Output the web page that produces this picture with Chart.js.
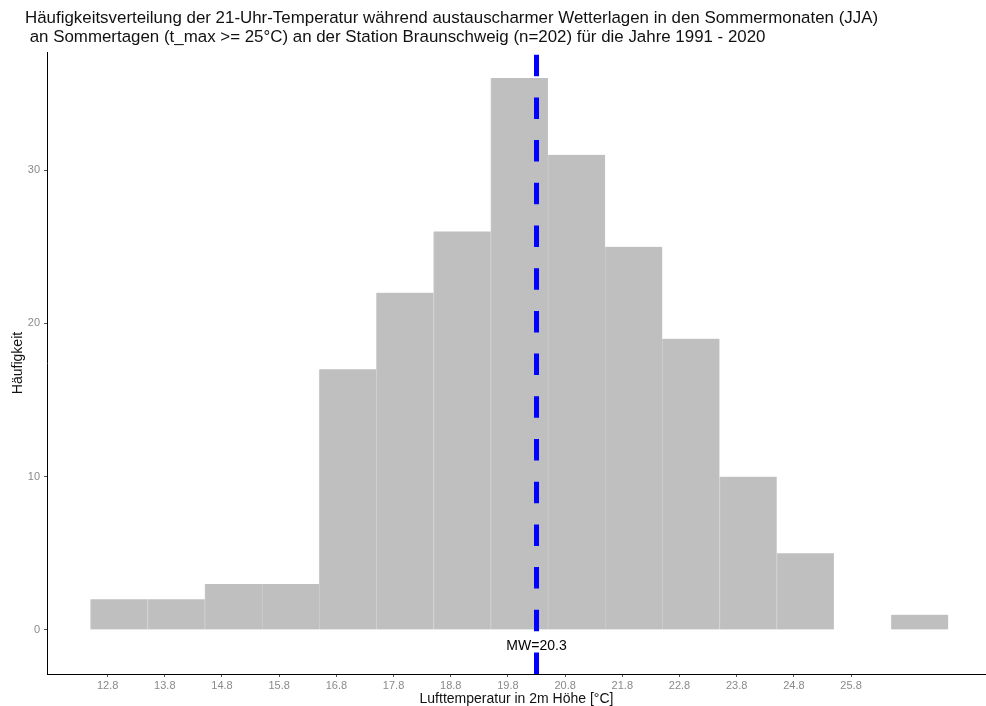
<!DOCTYPE html>
<html>
<head>
<meta charset="utf-8">
<script src="https://cdn.jsdelivr.net/npm/chart.js@4.4.1/dist/chart.umd.min.js"></script>
<style>
  html, body { margin: 0; padding: 0; background: #ffffff; }
  #wrap { width: 986px; height: 706px; position: relative; }
</style>
</head>
<body>
<div id="wrap"><canvas id="c" width="986" height="706"></canvas></div>
<script>
// Histogram of 21:00 temperatures, bins of 1 °C centred on whole degrees
const binCenters = [13, 14, 15, 16, 17, 18, 19, 20, 21, 22, 23, 24, 25, 26, 27];
const binCounts  = [2, 2, 3, 3, 17, 22, 26, 36, 31, 25, 19, 10, 5, 0, 1];

// Mean temperature (MW)
const meanValue = 20.3;
const meanLabel = 'MW=20.3';

// Axis ticks
const xTickValues = [12.8, 13.8, 14.8, 15.8, 16.8, 17.8, 18.8, 19.8, 20.8, 21.8, 22.8, 23.8, 24.8, 25.8];
const xTickLabels = ['12.8', '13.8', '14.8', '15.8', '16.8', '17.8', '18.8', '19.8', '20.8', '21.8', '22.8', '23.8', '24.8', '25.8'];
const yTickValues = [0, 10, 20, 30];

// Axis ranges
const xRange = [11.74, 28.16];
const yRange = [-2.87, 37.7];

const titleLines = [
  'Häufigkeitsverteilung der 21-Uhr-Temperatur während austauscharmer Wetterlagen in den Sommermonaten (JJA)',
  ' an Sommertagen (t_max >= 25°C) an der Station Braunschweig (n=202) für die Jahre 1991 - 2020'
];
const xTitle = 'Lufttemperatur in 2m Höhe [°C]';
const yTitle = 'Häufigkeit';

const FONT = '"Liberation Sans", Arial, sans-serif';

const histData = binCenters.map((c, i) => ({ x: c, y: binCounts[i] }));
const meanData = [{ x: meanValue, y: yRange[0] }, { x: meanValue, y: yRange[1] }];

// Title block, x-axis title and mean label
const annotate = {
  id: 'annotate',
  afterDraw(chart) {
    const ctx = chart.ctx;
    ctx.save();
    ctx.fillStyle = '#111111';
    ctx.font = '16.9px ' + FONT;
    ctx.textAlign = 'left';
    ctx.textBaseline = 'alphabetic';
    ctx.fillText(titleLines[0], 25, 23);
    ctx.fillText(titleLines[1], 25, 42);

    const xs = chart.scales.x, ys = chart.scales.y;
    const area = chart.chartArea;
    ctx.font = '14px ' + FONT;
    ctx.textAlign = 'center';
    ctx.textBaseline = 'middle';
    ctx.fillText(xTitle, (area.left + area.right) / 2, 699);

    ctx.fillStyle = '#000000';
    ctx.fillText(meanLabel, xs.getPixelForValue(meanValue), ys.getPixelForValue(-1.05));
    ctx.restore();
  }
};

new Chart(document.getElementById('c'), {
  type: 'bar',
  data: {
    datasets: [
      {
        type: 'bar',
        data: histData,
        backgroundColor: 'rgb(191,191,191)',
        borderColor: 'rgb(204,204,204)',
        borderWidth: { left: 1, right: 0, top: 0, bottom: 0 },
        borderSkipped: false,
        barPercentage: 1.0,
        categoryPercentage: 1.0,
        order: 2
      },
      {
        type: 'line',
        data: meanData,
        borderColor: '#0000ff',
        borderWidth: 5,
        borderDash: [21.5, 21.2],
        borderCapStyle: 'butt',
        pointRadius: 0,
        fill: false,
        order: 1
      }
    ]
  },
  options: {
    responsive: false,
    animation: false,
    devicePixelRatio: 1,
    layout: { padding: { top: 52, left: 0, right: 0, bottom: 0 } },
    plugins: {
      legend: { display: false },
      tooltip: { enabled: false },
      title: { display: false }
    },
    scales: {
      x: {
        type: 'linear',
        min: xRange[0],
        max: xRange[1],
        offset: false,
        afterBuildTicks: (s) => { s.ticks = xTickValues.map(v => ({ value: v })); },
        afterFit: (s) => { s.height = 32; },
        ticks: {
          autoSkip: false,
          maxRotation: 0,
          padding: 2,
          color: '#8a8a8a',
          font: { family: FONT, size: 11 },
          callback: (v) => {
            const i = xTickValues.findIndex(t => Math.abs(t - v) < 1e-6);
            return i >= 0 ? xTickLabels[i] : '';
          }
        },
        grid: { offset: false, drawOnChartArea: false, drawTicks: true, tickLength: 3, tickColor: '#555555' },
        border: { display: true, color: '#000000', width: 1 },
        title: { display: false }
      },
      y: {
        type: 'linear',
        min: yRange[0],
        max: yRange[1],
        afterBuildTicks: (s) => { s.ticks = yTickValues.map(v => ({ value: v })); },
        afterFit: (s) => { s.width = 47; },
        ticks: {
          padding: 4,
          color: '#8a8a8a',
          font: { family: FONT, size: 11 }
        },
        grid: { offset: false, drawOnChartArea: false, drawTicks: true, tickLength: 3, tickColor: '#555555' },
        border: { display: true, color: '#000000', width: 1 },
        title: {
          display: true,
          text: yTitle,
          color: '#111111',
          font: { family: FONT, size: 14 },
          padding: { top: 10, bottom: 0 }
        }
      }
    }
  },
  plugins: [annotate]
});
</script>
</body>
</html>
